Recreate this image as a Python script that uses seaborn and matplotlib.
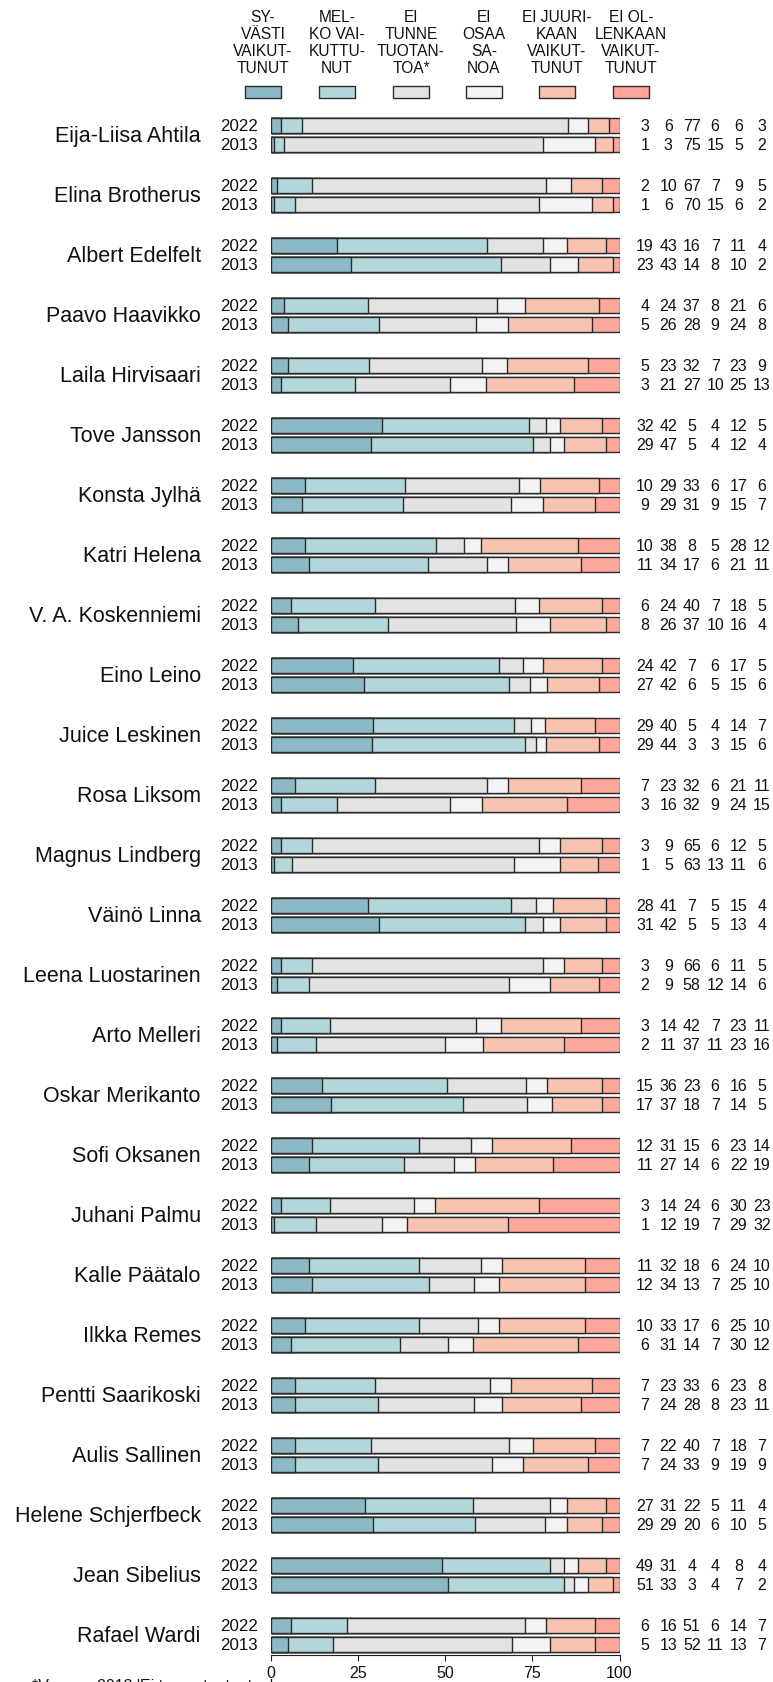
import numpy as np
import pandas as pd
import matplotlib
matplotlib.use("Agg")
import matplotlib.pyplot as plt
from matplotlib.patches import Rectangle
import seaborn as sns

# --- DATA ---
names = [
    "Eija-Liisa Ahtila", "Elina Brotherus", "Albert Edelfelt", "Paavo Haavikko",
    "Laila Hirvisaari", "Tove Jansson", "Konsta Jylhä", "Katri Helena",
    "V. A. Koskenniemi", "Eino Leino", "Juice Leskinen", "Rosa Liksom",
    "Magnus Lindberg", "Väinö Linna", "Leena Luostarinen", "Arto Melleri",
    "Oskar Merikanto", "Sofi Oksanen", "Juhani Palmu", "Kalle Päätalo",
    "Ilkka Remes", "Pentti Saarikoski", "Aulis Sallinen", "Helene Schjerfbeck",
    "Jean Sibelius", "Rafael Wardi",
]
years = ["2022", "2013"]

vals_2022 = [
    [3, 6, 77, 6, 6, 3], [2, 10, 67, 7, 9, 5], [19, 43, 16, 7, 11, 4],
    [4, 24, 37, 8, 21, 6], [5, 23, 32, 7, 23, 9], [32, 42, 5, 4, 12, 5],
    [10, 29, 33, 6, 17, 6], [10, 38, 8, 5, 28, 12], [6, 24, 40, 7, 18, 5],
    [24, 42, 7, 6, 17, 5], [29, 40, 5, 4, 14, 7], [7, 23, 32, 6, 21, 11],
    [3, 9, 65, 6, 12, 5], [28, 41, 7, 5, 15, 4], [3, 9, 66, 6, 11, 5],
    [3, 14, 42, 7, 23, 11], [15, 36, 23, 6, 16, 5], [12, 31, 15, 6, 23, 14],
    [3, 14, 24, 6, 30, 23], [11, 32, 18, 6, 24, 10], [10, 33, 17, 6, 25, 10],
    [7, 23, 33, 6, 23, 8], [7, 22, 40, 7, 18, 7], [27, 31, 22, 5, 11, 4],
    [49, 31, 4, 4, 8, 4], [6, 16, 51, 6, 14, 7],
]
vals_2013 = [
    [1, 3, 75, 15, 5, 2], [1, 6, 70, 15, 6, 2], [23, 43, 14, 8, 10, 2],
    [5, 26, 28, 9, 24, 8], [3, 21, 27, 10, 25, 13], [29, 47, 5, 4, 12, 4],
    [9, 29, 31, 9, 15, 7], [11, 34, 17, 6, 21, 11], [8, 26, 37, 10, 16, 4],
    [27, 42, 6, 5, 15, 6], [29, 44, 3, 3, 15, 6], [3, 16, 32, 9, 24, 15],
    [1, 5, 63, 13, 11, 6], [31, 42, 5, 5, 13, 4], [2, 9, 58, 12, 14, 6],
    [2, 11, 37, 11, 23, 16], [17, 37, 18, 7, 14, 5], [11, 27, 14, 6, 22, 19],
    [1, 12, 19, 7, 29, 32], [12, 34, 13, 7, 25, 10], [6, 31, 14, 7, 30, 12],
    [7, 24, 28, 8, 23, 11], [7, 24, 33, 9, 19, 9], [29, 29, 20, 6, 10, 5],
    [51, 33, 3, 4, 7, 2], [5, 13, 52, 11, 13, 7],
]

categories = [
    "SY-\nVÄSTI\nVAIKUT-\nTUNUT", "MEL-\nKO VAI-\nKUTTU-\nNUT",
    "EI\nTUNNE\nTUOTAN-\nTOA*", "EI\nOSAA\nSA-\nNOA",
    "EI JUURI-\nKAAN\nVAIKUT-\nTUNUT", "EI OL-\nLENKAAN\nVAIKUT-\nTUNUT",
]
colors = ["#8bbac4", "#b3d7da", "#e3e3e3", "#f4f4f4", "#f8c4b1", "#fca79b"]
xticks = [0, 25, 50, 75, 100]
footnote = "*Vuonna 2013 'Ei tunne tuotantoa'"

# --- long table with cumulative (normalised) shares ---
rows = []
for name, a, b in zip(names, vals_2022, vals_2013):
    for yr, v in (("2022", a), ("2013", b)):
        v = np.array(v, dtype=float)
        cum = np.cumsum(v) / v.sum() * 100
        row = {"name": name, "year": yr}
        for k in range(6):
            row[f"c{k}"] = cum[k]
        rows.append(row)
df = pd.DataFrame(rows)

sns.set_theme(style="white")
plt.rcParams["font.family"] = ["Liberation Sans", "DejaVu Sans"]

W, H = 773, 1683
fig = plt.figure(figsize=(W / 100, H / 100), dpi=100)
ax = fig.add_axes([270.5 / W, 1 - 1656 / H, 349 / W, (1656 - 106) / H])

bar_w = 0.65
edge = "#2b2b2b"
# draw from the longest cumulative bar to the shortest so they stack visually
for k in range(5, -1, -1):
    sns.barplot(
        data=df, x=f"c{k}", y="name", hue="year", hue_order=years,
        palette=[colors[k], colors[k]], order=names, orient="h",
        width=bar_w, gap=0.23, errorbar=None, saturation=1,
        edgecolor=edge, linewidth=1.0, legend=False, ax=ax,
    )

ax.set_xlim(0, 100)
ax.set_ylim(25.33, -0.5)
ax.set_xticks(xticks)
ax.set_xticklabels([str(t) for t in xticks], fontsize=11.5)
ax.set_yticks([])
ax.set_xlabel("")
ax.set_ylabel("")
for s in ["top", "right", "left"]:
    ax.spines[s].set_visible(False)
ax.spines["bottom"].set_color("#222222")
ax.spines["bottom"].set_linewidth(0.8)
ax.tick_params(axis="x", length=4.5, width=0.8, color="#222222", pad=3,
               bottom=True, labelcolor="#111111")

# names, years and numbers beside the bars
off = bar_w / 4
trans = ax.get_yaxis_transform()
for i, name in enumerate(names):
    ax.text(-0.200, i, name, transform=trans, ha="right", va="center",
            fontsize=15.5, color="#111111")
    for yr, vals, dy in (("2022", vals_2022[i], -off), ("2013", vals_2013[i], off)):
        ax.text(-0.036, i + dy, yr, transform=trans, ha="right", va="center",
                fontsize=12.2, color="#111111")
        for j, v in enumerate(vals):
            ax.text(1.073 + 0.067 * j, i + dy, str(v), transform=trans,
                    ha="center", va="center", fontsize=11.5, color="#111111")

# legend header
leg_x = [263, 337, 411, 484, 557, 631]
for cx, lab, col in zip(leg_x, categories, colors):
    fig.text(cx / W, 1 - 43 / H, lab, ha="center", va="center",
             fontsize=11.2, linespacing=1.17, color="#111111")
    fig.add_artist(Rectangle(((cx - 18) / W, 1 - 99 / H), 36 / W, 12 / H,
                             transform=fig.transFigure, facecolor=col,
                             edgecolor=edge, linewidth=1.0))

fig.text(32 / W, 1 - 1691 / H, footnote, ha="left", va="baseline",
         fontsize=11.5, color="#111111")

fig.savefig("out.png", dpi=100)
